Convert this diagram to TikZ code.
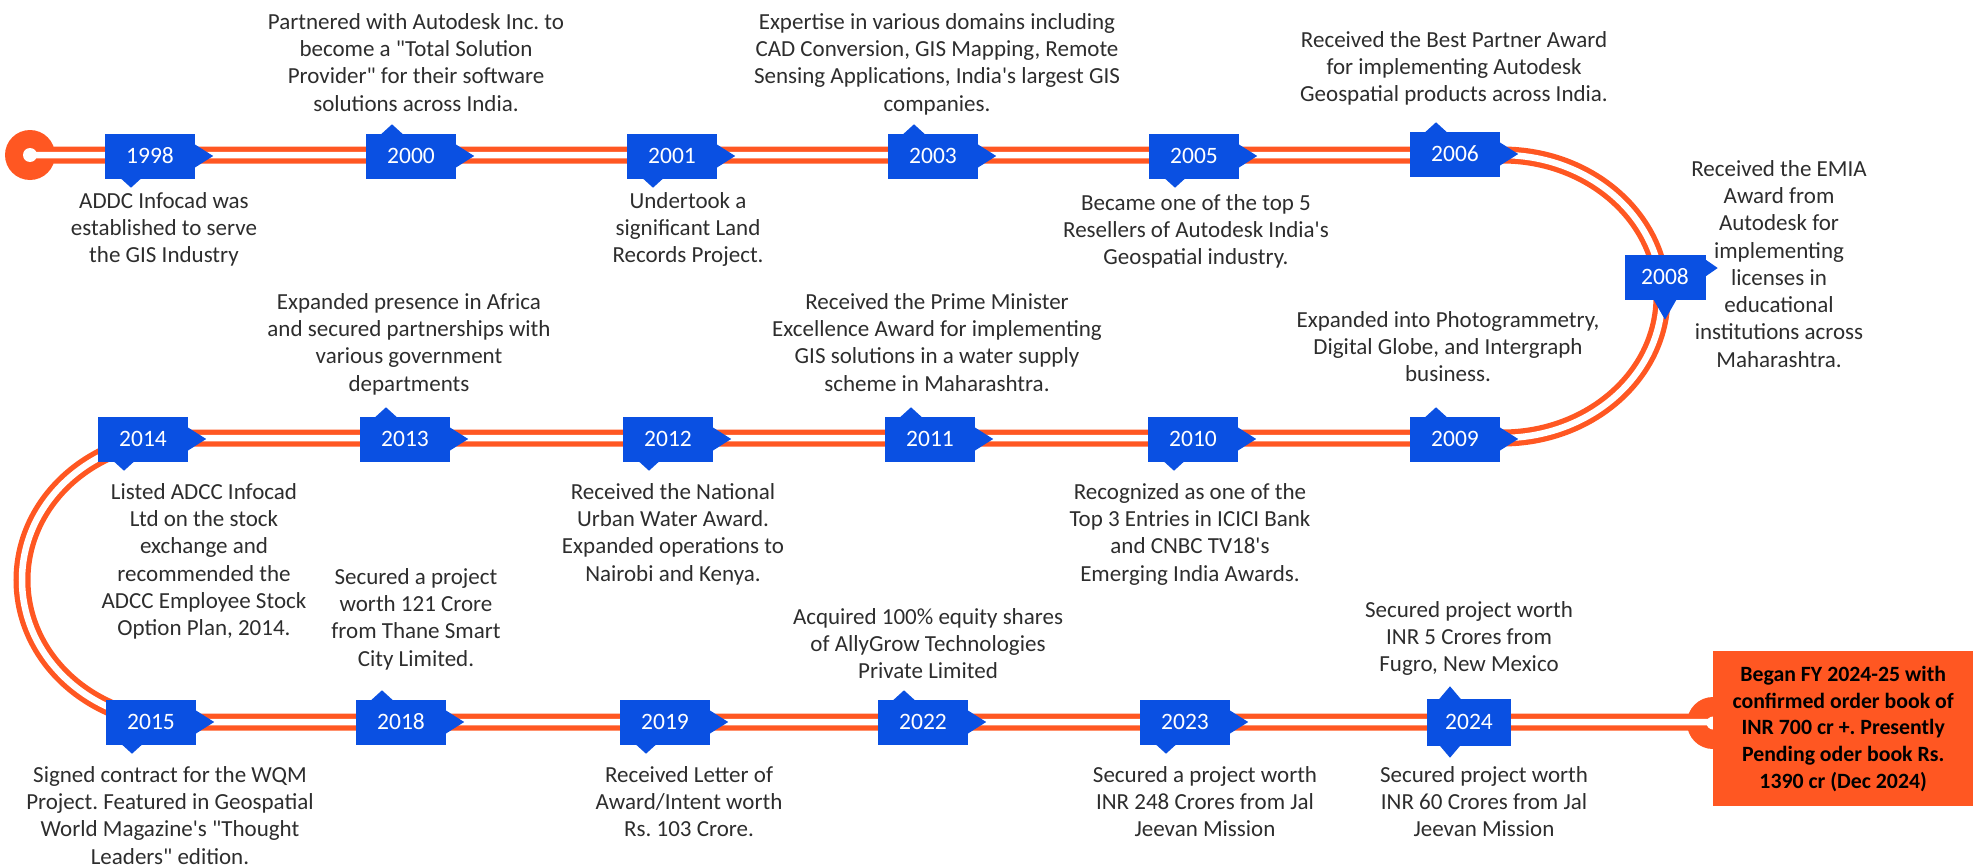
\documentclass[tikz,border=0pt]{standalone}
\usepackage{fontspec}
\setmainfont{Carlito}[Ligatures=TeXOff]
\usetikzlibrary{calc}
\definecolor{orng}{RGB}{255,87,34}
\definecolor{ybl}{RGB}{10,80,226}
\definecolor{txt}{RGB}{45,45,45}
\newcommand\rarrow[1]{\fill[ybl] ($(#1.east)+(-1,-12)$) -- ($(#1.east)+(18,0)$) -- ($(#1.east)+(-1,12)$) -- cycle;}
\newcommand\ptrup[2][9]{\fill[ybl] ($(#2.north)+(-30,1)$) -- ($(#2.north)+(-19,-#1)$) -- ($(#2.north)+(-8,1)$) -- cycle;}
\newcommand\ptrdown[2][9]{\fill[ybl] ($(#2.south)+(-30,-1)$) -- ($(#2.south)+(-19,#1)$) -- ($(#2.south)+(-8,-1)$) -- cycle;}
\begin{document}
\frenchspacing
\begin{tikzpicture}[x=1pt,y=-1pt,
  yb/.style={fill=ybl, text=white, minimum width=90pt, minimum height=45pt, inner sep=0pt, font=\fontsize{23.5}{27}\selectfont},
  desc/.style={align=center, text=txt, inner sep=0pt, anchor=north, font=\fontsize{23}{27.3}\selectfont\frenchspacing},
  track/.style={line width=17pt, draw=orng},
  gap/.style={line width=6.5pt, draw=white}]
\useasboundingbox (0,0) rectangle (1975,867);

% discs
\coordinate (start) at (30,155);
\coordinate (finish) at (1713,723);
\fill[orng] (start) circle[radius=25pt];
\fill[orng] (finish) circle[radius=26pt];

% track
\coordinate (r1) at (1502,155);
\coordinate (r2) at (1502,438);
\coordinate (l2) at (178,438);
\coordinate (l3) at (178,722);
\def\trackpath{(start) -- (r1) .. controls (1590.4,155) and (1662,218.35) .. (1662,296.5)
   .. controls (1662,374.65) and (1590.4,438) .. (r2) -- (l2)
   .. controls (91.8,438) and (22,501.6) .. (22,580)
   .. controls (22,658.4) and (91.8,722) .. (l3) -- (finish |- l3)}
\draw[track] \trackpath;
\draw[gap] \trackpath;
\fill[white] (start) circle[radius=7pt];
\fill[white] (finish) circle[radius=6.5pt];

% final box
\node[fill=orng, minimum width=260pt, minimum height=155pt, inner sep=0pt, anchor=north west,
  align=center, font=\fontsize{21.8}{26.7}\selectfont\bfseries\frenchspacing, text=black] (final) at (1713,651)
  {Began FY 2024-25 with\\confirmed order book of\\INR 700 cr +. Presently\\Pending oder book Rs.\\1390 cr (Dec 2024)};

% row 1
\node[yb] (y1998) at (150,156) {1998}; \rarrow{y1998} \ptrdown{y1998}
\node[yb] (y2000) at (411,156) {2000}; \rarrow{y2000} \ptrup{y2000}
\node[yb] (y2001) at (672,156) {2001}; \rarrow{y2001} \ptrdown{y2001}
\node[yb] (y2003) at (933,156) {2003}; \rarrow{y2003} \ptrup{y2003}
\node[yb] (y2005) at (1194,156) {2005}; \rarrow{y2005} \ptrdown{y2005}
\node[yb] (y2006) at (1455,154) {2006}; \rarrow{y2006} \ptrup{y2006}
% 2008
\node[yb, minimum width=81pt] (y2008) at (1665,277) {2008};
\fill[ybl] ($(y2008.south)+(-12,-1)$) -- ($(y2008.south)+(0,20)$) -- ($(y2008.south)+(12,-1)$) -- cycle;
\fill[ybl] ($(y2008.east)+(-1,-18)$) -- ($(y2008.east)+(12,-9)$) -- ($(y2008.east)+(-1,0)$) -- cycle;
% row 2
\node[yb] (y2014) at (143,439) {2014}; \rarrow{y2014} \ptrdown{y2014}
\node[yb] (y2013) at (405,439) {2013}; \rarrow{y2013} \ptrup{y2013}
\node[yb] (y2012) at (668,439) {2012}; \rarrow{y2012} \ptrdown{y2012}
\node[yb] (y2011) at (930,439) {2011}; \rarrow{y2011} \ptrup{y2011}
\node[yb] (y2010) at (1193,439) {2010}; \rarrow{y2010} \ptrdown{y2010}
\node[yb] (y2009) at (1455,439) {2009}; \rarrow{y2009} \ptrup{y2009}
% row 3
\node[yb] (y2015) at (151,722) {2015}; \rarrow{y2015} \ptrdown{y2015}
\node[yb] (y2018) at (401,722) {2018}; \rarrow{y2018} \ptrup{y2018}
\node[yb] (y2019) at (665,722) {2019}; \rarrow{y2019} \ptrdown{y2019}
\node[yb] (y2022) at (923,722) {2022}; \rarrow{y2022} \ptrup{y2022}
\node[yb] (y2023) at (1185,722) {2023}; \rarrow{y2023} \ptrdown{y2023}
\node[yb, minimum width=84pt, minimum height=47pt] (y2024) at (1469,722) {2024}; \ptrup[12]{y2024} \ptrdown[12]{y2024}

% descriptions
\node[desc] (t2000) at (416,13) {Partnered with Autodesk Inc. to\\become a "Total Solution\\Provider" for their software\\solutions across India.};
\node[desc] (t2003) at (937,13) {Expertise in various domains including\\CAD Conversion, GIS Mapping, Remote\\Sensing Applications, India's largest GIS\\companies.};
\node[desc] (t2006) at (1454,31) {Received the Best Partner Award\\for implementing Autodesk\\Geospatial products across India.};
\node[desc] (t1998) at (164,192) {ADDC Infocad was\\established to serve\\the GIS Industry};
\node[desc] (t2001) at (688,192) {Undertook a\\significant Land\\Records Project.};
\node[desc] (t2005) at (1196,194) {Became one of the top 5\\Resellers of Autodesk India's\\Geospatial industry.};
\node[desc] (t2008) at (1779,160) {Received the EMIA\\Award from\\Autodesk for\\implementing\\licenses in\\educational\\institutions across\\Maharashtra.};
\node[desc] (t2013) at (409,293) {Expanded presence in Africa\\and secured partnerships with\\various government\\departments};
\node[desc] (t2011) at (937,293) {Received the Prime Minister\\Excellence Award for implementing\\GIS solutions in a water supply\\scheme in Maharashtra.};
\node[desc] (t2009) at (1448,311) {Expanded into Photogrammetry,\\Digital Globe, and Intergraph\\business.};
\node[desc] (t2014) at (204,483) {Listed ADCC Infocad\\Ltd on the stock\\exchange and\\recommended the\\ADCC Employee Stock\\Option Plan, 2014.};
\node[desc] (t2012) at (673,483) {Received the National\\Urban Water Award.\\Expanded operations to\\Nairobi and Kenya.};
\node[desc] (t2010) at (1190,483) {Recognized as one of the\\Top 3 Entries in ICICI Bank\\and CNBC TV18's\\Emerging India Awards.};
\node[desc] (t2018) at (416,568) {Secured a project\\worth 121 Crore\\from Thane Smart\\City Limited.};
\node[desc] (t2022) at (928,608) {Acquired 100\% equity shares\\of AllyGrow Technologies\\Private Limited};
\node[desc] (t2024a) at (1469,601) {Secured project worth\\INR 5 Crores from\\Fugro, New Mexico};
\node[desc] (t2015) at (170,766) {Signed contract for the WQM\\Project. Featured in Geospatial\\World Magazine's "Thought\\Leaders" edition.};
\node[desc] (t2019) at (689,766) {Received Letter of\\Award/Intent worth\\Rs. 103 Crore.};
\node[desc] (t2023) at (1205,766) {Secured a project worth\\INR 248 Crores from Jal\\Jeevan Mission};
\node[desc] (t2024b) at (1484,766) {Secured project worth\\INR 60 Crores from Jal\\Jeevan Mission};
\end{tikzpicture}
\end{document}
